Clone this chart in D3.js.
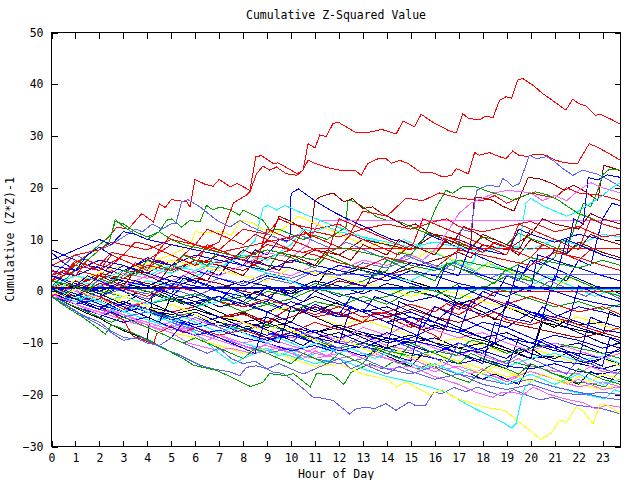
<!DOCTYPE html>
<html><head><meta charset="utf-8">
<script src="https://cdn.jsdelivr.net/npm/d3@7"></script>
<style>
html,body{margin:0;padding:0;background:#fff;}
svg{display:block;}
text{font-family:"DejaVu Sans Mono","Liberation Mono",monospace;font-size:11.5px;fill:#000;}
</style></head><body><svg id="chart" width="640" height="480"></svg>
<script>
const title = "Cumulative Z-Squared Value";
const xLabel = "Hour of Day";
const yLabel = "Cumulative (Z*Z)-1";
const xTickValues = [0,1,2,3,4,5,6,7,8,9,10,11,12,13,14,15,16,17,18,19,20,21,22,23];
const yTickValues = [-30,-20,-10,0,10,20,30,40,50];
const xDomain = [0, 23.75];
const yDomain = [-30, 50];

const RED="#ff0000", GREEN="#00a000", BLUE="#0000ff", MAGENTA="#ff60ff", CYAN="#00ffff",
      DARKRED="#a00000", YELLOW="#ffff00", BLACK="#000000", LIGHTBLUE="#6060ff", NAVY="#000090";

// series: [hour, cumulative value]
const s01 = [[0,1],[0.5,3],[1,5.5],[1.5,7],[2,9],[2.4,10.5],[2.72,12.4],[3.2,12],[3.77,15],[4.25,13.4],[4.5,16.9],[4.75,16.2],[5,17.7],[5.64,17.3],[5.78,16.3],[5.99,21.6],[6.4,20.7],[6.75,20.3],[7,21.6],[7.45,20.2],[7.75,20.8],[8.28,19.5],[8.53,26],[8.76,26.2],[9.25,24.7],[9.46,24.8],[9.96,23.5],[10.25,22.7],[10.5,23.4],[10.71,28.5],[11,27.7],[11.2,30.2],[11.47,29.9],[11.75,32.4],[11.96,32.7],[12.72,30.6],[13.4,30.8],[13.76,31.3],[14.39,30.4],[14.67,32.9],[15.15,31.8],[15.43,34.2],[15.9,32.7],[16.6,31],[16.9,30.6],[17.17,34.3],[17.4,33.4],[17.86,33.1],[18.1,33.8],[18.43,33.6],[18.7,36.9],[18.98,37.6],[19.2,37.3],[19.46,40.8],[19.67,41.1],[20.1,39.8],[20.5,38.2],[20.9,36.9],[21.47,35],[21.75,37.1],[22,36.3],[22.3,35.8],[22.7,34],[22.9,34.2],[23.28,33.4],[23.75,32.3]];
const s02 = [[0,1],[0.5,3],[1,5],[1.5,7],[2,9],[2.5,11],[2.66,13.9],[3,12.5],[3.5,11],[4,10],[4.5,11.5],[4.8,13.7],[5,14],[5.43,12.4],[5.78,13.7],[6.2,13.4],[6.47,16.6],[6.75,15.7],[7.03,16.3],[7.45,15.7],[7.86,14.7],[8,15.7],[8.42,14.7],[8.83,13.7],[9.11,11.8],[9.53,11.9],[10,11],[10.5,10],[11,10.8],[11.5,10],[12,11.5],[12.3,12.5],[12.36,17.6],[12.6,17.4],[13,16.3],[13.6,14.3],[14,13.7],[14.4,13.7],[15,12.5],[15.5,11.5],[16,10.7],[16.5,10],[17,9.2],[17.5,8.5],[18,10.5],[18.5,10],[19,9],[19.5,11.2],[20,10.2],[20.5,9.4],[21,8.5],[21.5,7.5],[22,9],[22.5,8.2],[23,7],[23.75,6]];
const s03 = [[0,0],[0.5,-1],[1,0.5],[1.5,-0.5],[2,-1.5],[2.5,1],[3,0],[3.5,-1],[4,-2],[4.5,0.5],[5,-0.5],[5.5,2.5],[6,1.5],[6.5,4],[7,3],[7.5,6],[8,5],[8.5,8],[9,7],[9.5,10],[9.95,9.8],[10,18.9],[10.3,19.8],[10.78,18.2],[11.2,16.9],[11.7,15.5],[12.2,14.3],[12.7,13.2],[13.2,12.2],[13.7,11],[14.2,10],[14.7,9.5],[15.2,8.5],[15.7,11],[16.2,10],[16.7,9],[17.2,8],[17.7,7],[18.2,6],[18.7,5],[19.2,4.2],[19.7,3.5],[20.2,6],[20.7,5],[21.2,4],[21.7,3],[22.2,2],[22.7,1],[23.2,0.5],[23.75,-0.5]];
const s04 = [[0,0],[1,2],[2,1],[3,3.5],[4,2.5],[5,4.5],[6,3.5],[7,6],[8,5],[9,7.5],[10,6.5],[10.7,9],[11,12],[11.2,13.7],[23.75,13.7]];
const s05 = [[0,0.5],[1,-0.5],[2,1.5],[3,0.5],[4,2],[5,1],[6,3],[7,4.5],[7.5,6],[8,7.5],[8.5,9.8],[8.83,16.2],[9.04,16.6],[9.39,15.7],[9.74,16.6],[10.36,15.3],[11.2,13.7],[11.7,12.8],[12.2,12],[12.7,11],[13.2,10],[13.7,9.5],[14.2,8.5],[14.7,10],[15.2,9],[15.7,8],[16.2,7],[16.7,6],[17.2,5],[17.7,4],[18.2,5.5],[18.7,4.5],[19.2,3.5],[19.7,2.5],[20.2,1.5],[20.7,3],[21.2,2],[21.7,1],[22.2,0],[22.7,-1],[23.2,0],[23.75,-1]];
const s06 = [[0,1],[1,3],[2,2],[3,4],[4,3.5],[5,6],[6,5],[7,7],[7.5,6],[8,8],[8.5,7],[9.2,11],[9.5,14.5],[10,13.5],[10.5,12],[10.8,10.5],[11,17.5],[11.2,18.2],[11.75,19],[12.2,17.3],[12.57,17.9],[13,16],[13.4,16.3],[13.8,15],[14.3,13.8],[14.8,12.5],[15.2,13],[15.7,11.5],[16.2,10.5],[16.7,9],[17.2,12.5],[17.5,11.8],[18,10.5],[18.5,9.2],[19,8.5],[19.5,7],[20,10],[20.5,9],[21,8],[21.5,7.2],[22,9.5],[22.5,8.5],[23,7.5],[23.75,6.5]];
const s07 = [[0,1],[1,3],[2,2],[3,4],[4,5.5],[5,7],[5.8,9],[6,11.5],[6.5,11.3],[7,11.5],[7.5,10.8],[7.9,13.7],[8.4,13.2],[8.8,12],[9.3,11],[9.8,12.5],[10.3,14.5],[10.8,13.5],[11.3,12.5],[11.8,11.5],[12.3,10.5],[12.8,9.5],[13.3,8.5],[13.8,9.5],[14.3,8.5],[14.8,7.5],[15.3,6.5],[15.8,8],[16.3,7],[16.8,6],[17.3,5],[17.8,4],[18.3,5.5],[18.8,4.5],[19.3,3.5],[19.8,2.5],[20.3,3.5],[20.8,2.5],[21.3,1.5],[21.8,2.5],[22.3,1.5],[22.8,0.5],[23.3,-0.5],[23.75,0.5]];
const s08 = [[0,-1],[0.5,-2],[1,-3.2],[1.5,-4.3],[2,-5.2],[2.5,-6.5],[3,-7.6],[3.5,-8.5],[4,-9.3],[4.2,-1.2],[4.5,-0.5],[5,-1.5],[5.5,-2.5],[6,-2],[6.5,-3],[7,-4],[7.5,-5],[8,-4.2],[8.5,-5.5],[9,-6.5],[9.5,-5],[10,-6],[10.5,-3],[11,-4],[11.5,-3],[12,-2],[12.5,-3],[13,-4],[13.5,-5],[14,-6],[14.5,-5],[15,-6.5],[15.5,-7.5],[16,-6.5],[16.5,-7.5],[17,-8],[17.5,-9],[18,-9.5],[18.5,-10.2],[19,-11],[19.5,-12],[20,-11],[20.5,-12.5],[21,-13],[21.5,-12],[22,-13.5],[22.5,-14],[23,-13],[23.75,-14]];
const s09 = [[0,-1.1],[0.64,-2.7],[1.33,-4.7],[2.03,-6],[2.45,-7.6],[3,-8.9],[3.42,-9.2],[3.7,-8.9],[4.25,-10.1],[4.8,-11.4],[5.2,-12],[5.64,-13],[6.2,-14.3],[6.75,-15],[7.45,-15.6],[7.86,-16.3],[8.14,-14.7],[8.56,-14.4],[9,-15],[9.25,-15.6],[9.67,-15.9],[10.08,-17.2],[10.5,-18.8],[10.92,-20.5],[11.2,-20.6],[11.75,-21.1],[12.44,-23.7],[12.72,-22.7],[13.13,-22.4],[13.48,-22.7],[13.96,-21.7],[14.38,-23],[14.93,-21.4],[15.2,-22.1],[15.6,-22.1],[15.96,-19.5],[16.3,-19.8],[16.8,-18.6],[17.3,-19.4],[17.8,-18.5],[18.3,-19.5],[18.8,-20.2],[19.3,-19],[19.8,-20],[20.4,-21],[20.9,-20.5],[21.4,-21.2],[21.9,-22],[22.4,-22.3],[22.9,-22.6],[23.3,-23.1],[23.75,-23.7]];
const s10 = [[0,1],[1,-0.5],[2,-2],[3,-1],[4,-3],[5,-4],[6,-3],[7,-5],[8,-6],[9,-5],[10,-7],[11,-8],[12,-6.5],[13,-8],[14,-9],[15,-10],[16,-9],[17,-11],[18,-12],[18.5,-10],[19,-11],[20,-13],[21,-12.5],[22,-14],[23,-15],[23.75,-14]];
const s11 = [[0,0.5],[0.5,1.5],[1,0.5],[1.5,2.5],[2,2],[2.5,4],[3,3],[3.5,5.5],[4,4.5],[4.5,6],[5,5],[5.5,7],[6,6.5],[6.5,8.5],[7,9.5],[7.38,14.4],[7.6,17.1],[8.14,18.6],[8.28,19.2],[8.56,22.7],[8.83,24.2],[9.11,23.4],[9.39,24],[9.8,22.7],[10.24,22.4],[10.5,23.4],[10.71,25.3],[11,24.7],[11.2,24.4],[11.5,23.9],[12.03,23.4],[12.66,23.4],[12.93,22.4],[13.2,24.7],[13.63,25.6],[13.98,25.6],[14.18,24.7],[14.53,25.3],[14.88,24.7],[15.43,22.9],[15.85,23],[16.33,22.1],[16.7,22.4],[16.9,23.7],[17.4,22.7],[17.66,26.8],[17.86,26.3],[18.28,26.8],[18.7,26],[18.97,25.6],[19.25,27.1],[19.5,26.3],[19.87,26],[20.15,26.5],[20.63,26.3],[21.05,25.3],[21.47,24.8],[21.96,24.7],[22.44,28.5],[22.72,28],[23.28,26.6],[23.75,25.3]];
const s12 = [[0,-1],[0.6,-3],[1.3,-5],[1.9,-7],[2.24,-8.3],[2.5,-6.5],[3,-7.3],[3.5,-8.3],[4,-9.3],[4.5,-10.5],[5,-11.8],[5.5,-13],[5.93,-14.3],[6.9,-15.3],[7.6,-16.8],[8.3,-18.4],[8.82,-17.6],[9.1,-15.9],[9.8,-16.3],[10.1,-15.9],[10.8,-18.5],[11.06,-15.9],[11.75,-16.2],[12.2,-18],[12.5,-15.7],[12.8,-15],[13.3,-14],[13.8,-15],[14.3,-13.5],[14.8,-14.3],[15.3,-15],[15.8,-14],[16.3,-15.5],[16.9,-16.8],[17.45,-17.6],[18,-15.3],[18.55,-13.7],[19.1,-13.4],[19.8,-14.3],[20.36,-14.7],[20.9,-15.9],[21.47,-16.6],[21.9,-17.6],[22.5,-17.8],[23.1,-18.5],[23.4,-17],[23.75,-15.3]];
const s13 = [[0,2],[1,0.5],[2,-1],[3,1],[4,0],[5,-1.5],[6,-2.5],[7,-1],[8,-3],[9,-2],[10,-4],[11,-3],[12,-5],[13,-3.5],[14,-5],[15,-4],[16,-6],[17,-2],[17.5,-3],[18,0],[18.5,-1],[19,3],[19.5,2],[20,6],[20.5,5],[21,8],[21.5,7],[21.8,14],[22.2,13],[22.4,22],[22.8,21.5],[23.2,22.5],[23.75,22]];
const s14 = [[0,-0.5],[1,-2.5],[2,-4],[3,-5.5],[4,-7],[5,-6],[6,-8],[7,-9.5],[8,-11],[9,-10.5],[10,-12],[11,-13],[12,-12],[13,-14],[14,-15],[15,-14.5],[16,-16.5],[17,-18],[17.7,-19.5],[18.42,-20.5],[18.8,-19.5],[19.25,-19.5],[19.7,-20],[20.1,-18.5],[20.76,-19.9],[21.2,-20.5],[21.7,-21.1],[22.2,-21.5],[22.7,-22.7],[23.2,-22],[23.75,-22.4]];
const s15 = [[0,0],[1,-1.5],[2,-3],[3,-4.5],[4,-6],[5,-5],[6,-7],[7,-8.5],[8,-10],[9,-11.5],[10,-12.5],[11,-14],[12,-13],[13,-15],[14,-16.5],[15,-17.5],[15.8,-18.5],[16.47,-19.5],[17.2,-21.5],[17.8,-23],[18.4,-24.3],[18.9,-25.5],[19.2,-26.4],[19.4,-25.5],[19.6,-21.1],[19.76,-18.5],[20.1,-17.2],[20.6,-18],[21.1,-18.5],[21.6,-19.2],[22.1,-19.8],[22.6,-20.3],[23.1,-20.8],[23.5,-19],[23.75,-19.5]];
const s16 = [[0,2],[1,1],[2,3.5],[3,2.5],[4,4.5],[5,3.5],[6,6],[7,5],[8,4],[9,6.5],[10,5.5],[11,8],[12,7],[13,10],[14,9],[15,8],[16,11],[17,10],[17.5,9],[17.65,18.2],[18,18],[18.4,17.6],[18.8,16.5],[19.3,15.5],[19.9,22],[20.4,21.7],[20.9,20.8],[21.4,19.5],[21.8,20.5],[22.3,19.2],[22.8,17.5],[23.05,24.3],[23.3,24],[23.75,23.3]];
const s17 = [[0,-0.5],[1,-2],[2,-3.5],[3,-5],[4,-6.5],[5,-8],[6,-9],[7,-10.5],[8,-12],[9,-11],[10,-13],[11,-14.5],[12,-14],[13,-16],[14,-17],[14.4,-18.5],[14.8,-17.5],[15.3,-18.8],[15.8,-20],[16.3,-19],[16.8,-20.5],[17.3,-21.3],[17.8,-22],[18.3,-22.6],[18.9,-23],[19.4,-24.8],[20,-27],[20.43,-28.7],[20.9,-27.2],[21.2,-24.9],[21.5,-25.4],[21.9,-22.3],[22.2,-23.2],[22.6,-25.6],[22.9,-21.8],[23.2,-22],[23.75,-23.7]];
const s18 = [[0,0.5],[1,1],[2,0],[3,1.5],[4,0.5],[5,2],[6,1],[7,0],[8,-1],[9,0.5],[10,-0.5],[10.5,1],[11,0.6],[11.5,4],[12,3],[13,4.5],[14,3.5],[15,2],[16,0.5],[16.5,-1],[17,-2.5],[17.5,-3],[18,-4],[18.5,-5.5],[19,-3],[19.5,-4],[20,-5],[20.5,-6],[21,-7],[21.5,-5.5],[22,-6.5],[23,-6],[23.75,-7]];
const s19 = [[0,0.5],[1,-1],[2,1],[3,0],[4,-1.5],[5,0.5],[6,-1],[7,1],[8,0],[9,2.5],[10,1.5],[11,4],[12,3],[13,5.5],[14,4.5],[15,6.5],[16,5],[16.8,4],[17.1,12],[17.5,11.5],[17.75,19.5],[18.2,20.5],[18.7,20.2],[18.83,21.8],[19.04,21.2],[19.25,20.2],[19.53,20.8],[19.95,26.3],[20.23,25.6],[20.65,26],[20.93,25.3],[21.35,23.7],[21.76,22.4],[22.18,23.4],[22.46,23],[22.74,22.7],[23.3,21.4],[23.75,20.2]];
const s20 = [[0,0],[1,-1],[2,0.5],[3,-1],[4,0],[5,-2],[6,-1],[7,-3],[8,-2],[9,-4],[10,-3],[11,-1],[12,-2.5],[13,-4],[14,-3],[15,-5],[16,-6],[17,-7.5],[18,-9],[19,-8],[20,-10],[21,-11],[22,-10],[23,-12],[23.75,-11.5]];
const s21 = [[0,2],[1,4],[2,3],[3,7],[4,6],[5,5],[6,9],[7,8],[8,12],[9,11],[9.5,14],[10,13],[11,12],[12,13],[12.5,11.5],[13,15.5],[14,14.5],[14.8,18],[15.5,17.5],[16.2,19],[17,18],[18,17.5],[18.5,18.5],[19,17],[20,19],[21,18],[21.5,20],[22,19],[23,18.5],[23.75,17.5]];
const s22 = [[0,0],[1,-1.5],[2,0],[3,-1],[4,-2.5],[5,-1.5],[6,-3],[7,-2],[8,-4],[9,-2.5],[10,-4],[11,-2],[12,-3],[13,-1],[14,-2.5],[15,0],[16,-1],[17,1.5],[18,0.5],[19,3],[20,2],[20.5,5],[21,6.5],[21.3,10],[21.6,9.5],[21.9,13],[22.2,17],[22.5,16.3],[22.8,19.5],[23,22.5],[23.3,23.6],[23.75,23.4]];
const s23 = [[0,-1],[1,-2.5],[2,-1.5],[3,-4],[4,-3],[5,-5.5],[6,-4.5],[7,-7],[8,-6],[9,-8],[10,-9],[11,-7.5],[12,-9],[13,-8],[14,-10],[15,-9],[16,-7],[17,-8],[18,-6],[19,-7],[20,-4],[20.5,-5],[21,3],[21.5,2],[22,6],[22.5,5],[23,14],[23.4,17],[23.75,16.5]];
const s24 = [[0,1],[1,0],[2,2],[3,1],[4,3],[5,2],[6,4],[7,3],[8,5],[9,4],[10,3],[11,5],[12,4],[13,6],[14,5],[15,7],[15.5,6],[16,8],[16.6,12],[17,15],[17.5,17],[18,18],[18.5,19],[19,19.5],[19.5,19.3],[20,19],[20.5,17.5],[21,18.5],[21.5,17.5],[22,19.5],[22.5,21],[23,20],[23.75,19]];
const s25 = [[0,1],[1,-0.5],[2,-2],[3,-1],[4,-2.5],[5,-1],[6,-3],[7,-2],[8,0],[9,-1],[10,1],[11,0],[12,2],[13,1],[14,3],[15,2],[16,4.5],[17,6],[17.5,5],[18,9],[18.5,8.5],[19,8],[19.5,8],[19.8,17],[20,18],[20.5,16.5],[21,15.5],[21.5,14.5],[22,15.5],[22.5,17],[23,18.5],[23.4,20],[23.75,21]];
const s26 = [[0,0.5],[1,2],[2,1],[3,2.5],[4,1.5],[5,0.5],[6,2.5],[7,1.5],[8,0],[9,-1],[10,1],[11,0],[12,2],[13,1],[14,3],[15,4.5],[16,6],[17,7.5],[17.5,6.5],[18,9],[19,8],[20,11],[20.5,14],[21,13],[22,12],[22.5,15],[23,14],[23.75,13]];
const s27 = [[0,0],[1,1.5],[2,0.5],[3,-1],[4,0.5],[5,-0.5],[6,-2],[7,-1],[8,-2.5],[9,-4],[10,-3],[11,-5],[12,-6.5],[13,-5.5],[14,-7],[15,-8.5],[16,-10],[17,-9],[18,-10.5],[19,-12],[20,-11],[21,-12.5],[22,-14],[23,-13],[23.75,-14.5]];
const s28 = [[0,-0.5],[1,-1.5],[2,-3],[3,-2],[4,-3.5],[5,-4.5],[6,-3.5],[7,-5],[8,-6],[9,-7],[10,-6],[11,-8],[12,-7],[13,-8.5],[14,-9.5],[15,-8.5],[16,-10],[17,-11],[18,-10],[19,-11.5],[20,-13],[20.5,-6],[21,-6.5],[22,-7.5],[23,-8.5],[23.3,-4],[23.75,-5]];
const s29 = [[0,3],[0.5,5],[1,7],[1.5,6],[2,8],[2.5,9],[3,10.5],[3.5,12],[3.8,11.5],[4.2,13],[4.6,12],[5,13],[5.2,13.2],[5.43,17.3],[5.7,17.7],[6.2,16.3],[6.9,13.7],[7.45,12.4],[7.86,13.7],[8.3,12.5],[8.8,11.5],[9.3,10.5],[9.8,9.5],[10.3,11],[10.8,10],[11.3,9],[11.8,8],[12.3,9.5],[12.8,8.5],[13.3,7.5],[13.8,6.5],[14.3,5.5],[14.8,7],[15.3,6],[15.8,5],[16.3,4],[16.8,5.5],[17.3,4.5],[17.8,3.5],[18.3,2.5],[18.8,3.5],[19.3,2.5],[19.8,1.5],[20.3,0.5],[20.8,2],[21.3,1],[21.8,0],[22.3,-1],[22.8,0.5],[23.3,-0.5],[23.75,-1.5]];
const s30 = [[0,2],[1,1],[2,3],[3,2],[4,1],[5,3],[6,2],[7,0.5],[8,2],[9,1],[10,0],[11,2],[12,1],[13,-0.5],[14,1.5],[15,0.5],[16,-1],[17,-2.5],[18,-1],[19,-2.5],[20,-4],[21,-5.5],[22,-7],[23,-8.5],[23.75,-9.5]];
const s31 = [[0,-1],[1,1],[2,3],[3,2.5],[4,5],[5,4],[6,6],[7,5.5],[8,7],[9,6.5],[10,8],[10.5,7.5],[11,8.2],[23.75,8.2]];
const s32 = [[0,-0.5],[1,-2],[2,-1],[3,-3],[4,-2],[5,-4],[6,-3],[7,-1],[8,-2.5],[9,0],[10,-1],[11,1.5],[12,0.5],[13,2],[14,4],[14.5,7.5],[15,7],[15.5,10],[16.06,16.3],[16.47,19.5],[16.74,18.9],[17.15,20.2],[17.7,20.2],[18.1,19.5],[18.98,18.2],[19.25,17.6],[19.6,18.3],[20.2,19.2],[20.7,18.6],[21.2,17.5],[21.5,16.5],[22,15],[22.5,14.2],[23,13],[23.75,12]];
const s33 = [[0,3],[1,1.5],[2,0],[3,2],[4,1],[5,-0.5],[6,-2],[7,-1],[8,-2.5],[9,-4],[10,-2],[11,-3.5],[12,-5],[12.5,-3],[13,-4],[14,-6],[15,-5],[16,-7],[17,-8],[17.5,-2],[18,-3],[19,-5],[20,-6],[20.5,-3],[21,-4.5],[22,-6],[23,-7.5],[23.75,-8]];
const s34 = [[0,0],[1,-2],[2,-3.5],[3,-5],[4,-6.5],[5,-8],[5.7,-10],[6.9,-11.4],[7.5,-11],[8.4,-12.1],[9,-11.5],[9.6,-10.8],[10.5,-12],[11,-11],[11.8,-9.5],[12.5,-10],[13,-8.5],[13.5,-9.5],[14,-10.5],[15,-11.5],[15.5,-10],[16,-11],[17,-12.5],[17.5,-11.5],[18,-12.5],[19,-14],[19.5,-13],[20,-14.5],[21,-15.5],[22,-16],[22.5,-14.5],[23,-15.5],[23.75,-16]];
const s35 = [[0,0.5],[1,-1],[2,-2.5],[3,-4],[4,-5.5],[5,-7],[5.5,-6],[6,-8],[6.5,-10],[7,-12],[7.6,-14],[8,-13],[8.5,-12],[9,-11],[9.5,-12.5],[10,-11.5],[10.5,-13],[11,-12],[12,-11],[13,-12.5],[14,-11],[15,-13],[16,-12],[17,-14],[18,-13],[19,-14.5],[20,-13],[21,-12],[22,-13.5],[23,-12.5],[23.75,-14]];
const s36 = [[0,-0.5],[1,-2],[2,-1],[3,-3],[4,-2],[5,-4],[6,-3],[7,-5],[8,-4],[9,-6],[10,-5],[11,-3],[12,-4.5],[13,-6],[14,-5],[15,-3.5],[16,-5],[17,-6],[18,-4.5],[19,-6],[20,-7],[21,-8],[22,-9],[23,-8],[23.75,-9]];
const s37 = [[0,2],[1,1],[2,-0.5],[3,-2],[4,-3.5],[5,-5],[6,-4],[7,-6],[8,-7.5],[9,-6.5],[10,-8],[11,-9.5],[12,-8],[13,-10],[14,-11.5],[15,-13],[16,-12],[17,-13.5],[18,-15],[19,-16.5],[20,-15.5],[21,-17],[22,-18],[23,-19],[23.75,-18]];
const s38 = [[0,1],[1,0],[2,-1],[3,0.5],[4,-0.5],[5,1.5],[6,0.5],[7,2.5],[8,1.5],[9,3.5],[10,2.5],[11,4],[11.5,3.2],[23.75,3.2]];
const s39 = [[0,0],[1,-1.5],[2,-3],[3,-2],[4,-3.5],[5,-5],[6,-4],[7,-6],[8,-7],[9,-6],[10,-8],[11,-9],[12,-8],[13,-10],[14,-11],[15,-9.5],[16,-10.5],[17,-12],[18,-13.5],[19,-15],[19.5,-9],[20,-10],[21,-11.5],[22,-12],[23,-13],[23.75,-12]];
const s40 = [[0,0],[1,-2],[2,-1],[3,-3.5],[4,-2],[5,-4],[6,-3],[7,-5],[8,-4.5],[9,-6],[10,-3],[11,-5],[12,-4],[13,-6],[14,-5],[15,-7],[16,-3],[17,-4.5],[18,-2],[18.5,0],[23.75,0]];
const s41 = [[0,0],[1,-1.5],[2,-3],[3,-2],[4,-4],[5,-5],[6,-4],[7,-6],[8,-7.5],[9,-6.5],[10,-8],[11,-9.5],[12,-11],[13,-10],[14,-11.5],[15,-12.5],[16,-11.5],[16.9,-12.4],[17.4,-9.8],[17.6,-9.5],[18,-10],[18.5,-11],[19,-12],[20,-11],[21,-10],[22,-11],[23,-12],[23.75,-13]];
const s42 = [[0,1],[1,-0.5],[2,-2.5],[3,-4],[4,-3],[5,-5],[6,-6.5],[7,-5],[8,-7],[9,-8.5],[10,-7],[11,-9],[12,-10],[13,-11],[14,-9],[15,-10.5],[16,-12],[17,-10],[18,-11.5],[19,-13],[19.5,-11],[20,-12],[21,-13.5],[22,-14],[23,-13],[23.75,-11]];
const s43 = [[0,-1],[1,-2],[2,-3.5],[3,-4.5],[4,-6],[5,-7.5],[6,-7],[7,-8.5],[8,-10],[9,-9],[10,-10.5],[11,-12],[12,-13],[13,-12],[14,-13],[15,-14],[16,-15.5],[17,-14.5],[18,-16],[19,-17],[20,-15.5],[21,-17],[22,-18.5],[23,-17.5],[23.75,-18.5]];
const s44 = [[0,0],[1,2],[2,1],[3,3],[4,4.5],[5,3.5],[6,5.5],[7,4.5],[8,7],[9,6],[10,9],[10.5,12],[11,11.5],[11.5,12.5],[12,11.5],[13,10.5],[14,9.5],[15,8.5],[16,9.5],[17,8.5],[18,7.5],[19,9],[20,8],[21,10],[22,9],[23,11],[23.75,10.5]];
const s45 = [[0,0.5],[1,2],[2,3.5],[3,5],[4,4],[5,6],[6,5],[7,4],[8,3],[9,2],[10,4.5],[11,3.5],[12,2.5],[13,1.5],[14,0.5],[15,-1],[16,0.5],[17,-0.5],[18,-2],[19,-3],[20,-4.5],[21,-6],[22,-5],[23,-6.5],[23.75,-7.5]];
const s46 = [[0,-0.5],[1,-2],[2,-3.5],[3,-5],[4,-4],[5,-6],[6,-7.5],[7,-9],[8,-10.5],[9,-12],[10,-11],[11,-13],[12,-14],[13,-13],[14,-15],[15,-16],[16,-14.5],[17,-16],[18,-17],[19,-18],[20,-17],[21,-18.5],[22,-19.5],[23,-20.5],[23.75,-21]];
const s47 = [[0,5],[1,4],[2,6],[3,5],[4,3.5],[5,2],[6,1],[7,0],[8,-1],[9,-2],[9.5,0.5],[10,-0.5],[11,1],[12,-1],[13,0],[13.5,4],[14,3],[15,1.5],[16,0],[16.5,5.5],[17,4.5],[18,3],[19,1.5],[20,0],[20.3,7],[21,6],[22,4.5],[23,3],[23.75,2]];
const s48 = [[0,0],[1,-1.5],[2,-3],[3,-5.5],[3.4,-8.7],[3.95,-9.6],[4.25,-10.3],[4.4,-8.2],[4.7,-7.5],[5,-6.8],[5.5,-8],[6,-7],[7,-8.5],[8,-7.5],[9,-9],[10,-8],[11,-6],[12,-7.5],[13,-6],[13.5,-4],[14.39,-4.7],[15.36,-7.2],[15.98,-8.5],[16.2,-9.2],[16.47,-6.3],[16.9,-2.4],[17.5,-3.5],[18,-5],[18.5,-4],[19,-5.5],[20,-6.5],[21,-5],[22,-6.5],[23,-8],[23.75,-7]];
const s49 = [[0,0.5],[0.5,2],[1,4],[1.5,6],[2,8],[2.4,9.5],[2.66,13.5],[3,13],[3.5,11.5],[4,10.5],[4.5,11.5],[5,10],[5.5,9],[6,8.5],[7,7.5],[8,6.5],[9,8],[10,7],[11,6],[12,8.5],[13,7.5],[14,6.5],[15,5],[16,4],[17,6],[18,5],[19,4],[20,6.5],[21,5.5],[22,4.5],[23,6],[23.75,5]];
const s50 = [[0,7.5],[0.5,5.5],[1,4],[1.5,7],[2,8.5],[2.5,7],[3,6],[3.5,5],[4,6.5],[5,5],[6,4],[7,2.5],[8,1],[9,3],[10,2],[11,0.5],[12,2.5],[13,1],[14,-0.5],[15,-2],[16,-1],[17,-3],[18,-4.5],[19,-2.5],[20,-4],[21,-5],[22,-3],[23,-4],[23.75,-5]];
const s51 = [[0,1],[1,0],[2,-1.5],[3,-3],[4,-2],[5,-4],[6,-5.5],[7,-7],[8,-6],[9,-7.5],[10,-9],[11,-8],[12,-9.5],[13,-7],[14,-8.5],[15,-6],[16,-7.5],[17,-9],[18,-8],[19,-10],[20,-11.5],[21,-10],[22,-11.5],[23,-13],[23.75,-12]];
const s52 = [[0,1],[1,3],[2,2],[3,4],[4,3],[5,5],[6,4],[7,6],[8,5],[9,3.5],[10,2],[10.5,1],[11,0.3],[23.75,0.3]];
const s53 = [[0,-1],[0.7,-3],[1.4,-5],[2,-6.5],[2.5,-8],[3,-9.5],[3.5,-9],[4,-10],[4.5,-10.5],[5,-9],[5.5,-10],[6,-11],[6.5,-12],[7,-11],[7.5,-13],[8,-14],[8.5,-13.5],[9,-15],[9.5,-14],[10,-15],[10.5,-16],[11,-15],[12,-13],[12.5,-15],[13,-14],[14,-16],[14.5,-14.5],[15,-15.5],[16,-17],[17,-16],[18,-18],[19,-19],[20,-18],[21,-19.5],[22,-20],[23,-19.5],[23.75,-20]];
const s54 = [[0,-0.5],[1,-2],[2,-3.5],[3,-2.5],[4,-4],[5,-5.5],[6,-7],[7,-6],[8,-8],[9,-9.5],[10,-8.5],[11,-10],[12,-11],[13,-12.5],[14,-11],[15,-12],[16,-13],[17,-14],[18,-13],[19,-14.5],[20,-15],[21,-14],[22,-15.5],[23,-16],[23.75,-15]];
const s55 = [[0,3],[1,5],[2,4],[3,7],[4,6],[5,9],[6,8],[7,7],[8,6],[9,9],[10,8],[11,7],[12,5.5],[13,4.5],[14,6.5],[15,5.5],[16,4.5],[17,8],[18,7],[19,6],[20,5],[21,7.5],[22,6.5],[23,5],[23.75,4]];
const s56 = [[0,2],[1,1],[2,-0.5],[3,1],[4,0],[5,-1.5],[6,-0.5],[7,-2],[8,-1],[9,-2.5],[10,-1.5],[11,0.5],[12,-0.5],[13,-2],[14,-1],[15,1],[16,0],[17,-1.5],[18,1],[19,0],[20,-1.5],[21,-3],[22,-2],[23,-3.5],[23.75,-2.5]];
const s57 = [[0,0.6],[23.75,0.6]];
const s58 = [[0,0.8],[23.75,0.8]];
const s59 = [[0,4],[1,3],[2,5],[3,4],[4,6],[5,5],[6,7],[7,6],[8,5],[9,4],[10,6],[11,5],[12,4],[13,3],[14,2],[15,4],[16,3],[17,1.5],[18,0.5],[19,-1],[20,1],[21,0],[22,-1.5],[23,-2.5],[23.75,-3]];
const s60 = [[0,0],[1,-1],[2,1.5],[3,0.5],[4,-1],[5,1],[6,0],[7,-2],[8,-3],[9,-1.5],[10,-3],[11,-4.5],[12,-3],[13,-5],[14,-4],[15,-2.5],[16,-4],[16.5,-2.4],[17,-3.5],[18,-1],[19,-2.5],[20,-1],[21,-2.5],[22,-4],[23,-3],[23.75,-4.5]];
const s61 = [[0,-1],[1,-3],[2,-4.5],[3,-6],[4,-5],[5,-7],[6,-8.5],[7,-7.5],[8,-9],[9,-10],[10,-11.5],[11,-10.5],[12,-12],[13,-10],[14,-8],[15,-9.5],[16,-10.5],[17,-12],[18,-11],[19,-9],[20,-10],[21,-8.5],[22,-9.5],[23,-11],[23.75,-10]];
const s62 = [[0,5],[1,7],[2,8],[2.5,9.5],[3,9],[4,8],[5,10],[6,9],[7,7.5],[8,8.5],[9,9.5],[10,10.5],[11,11.5],[12,10.5],[13,12],[14,13],[15,12],[16,13.5],[16.5,14],[17,12.5],[18,11.5],[19,12.5],[20,13.5],[21,11.5],[22,12.5],[23,10.5],[23.75,11]];
const s63 = [[0,6],[1,8],[2,10],[2.5,9],[3,11.5],[3.5,11],[4,10],[5,9],[6,8],[7,7],[8,6],[9,5],[10,4.5],[11,3],[12,5],[13,4],[14,3],[15,5.5],[16,4.5],[17,3],[17.5,9],[18,8],[19,7],[19.5,12],[20,11],[21,9.5],[22,11],[23,10],[23.75,9]];
const s64 = [[0,0],[1,-1.5],[2,-3],[3,-2],[4,-4],[5,-5.5],[6,-4.5],[7,-6.5],[8,-8],[9,-9.5],[10,-8],[11,-10],[12,-11.5],[13,-10.5],[14,-12],[15,-13.5],[15.5,-5],[16,-6],[17,-7.5],[18,-9],[18.5,-10],[19,-2],[19.5,-3],[20,-4.5],[21,-6],[21.5,-7],[22,1],[22.5,0],[23,-1],[23.75,-2]];
const s65 = [[0,1],[0.5,0],[1,-1],[1.5,0.5],[2,-0.5],[2.5,-1.5],[3,-2.5],[3.5,-1],[4,-2],[4.5,-3],[5,-4],[5.5,-5],[6,-4],[6.5,-5],[7,-6],[7.5,-7],[8,-8],[8.5,-6.5],[9,-7.5],[9.5,-8.5],[10,-9.5],[10.5,-10.5],[11,-9],[11.5,-10],[12,-11],[12.5,-12],[13,-13],[13.5,-11.5],[14,-12.5],[14.5,-13.5],[15,-14.5],[15.5,-12],[16,-13],[16.5,-14],[17,-15],[17.5,-16],[18,-17],[18.5,-16],[19,-17],[19.5,-18],[20,-14],[20.5,-15],[21,-16],[21.5,-17],[22,-18],[22.5,-15.5],[23,-16.5],[23.75,-17.5]];
const s66 = [[0,8],[0.5,7],[1,6],[1.5,5],[2,4.5],[2.5,3.5],[3,5],[3.5,4],[4,3],[4.5,2],[5,1],[5.5,3],[6,2],[6.5,1],[7,0],[7.5,-1],[8,-2],[8.5,0],[9,-1],[9.5,-2],[10,-3],[10.5,-4],[11,-2.5],[11.5,-3.5],[12,-4.5],[12.5,-1],[13,-2],[13.5,-3],[14,-4],[14.5,-5],[15,-6],[15.5,-7],[16,-3],[16.5,-4],[17,-5],[17.5,-6],[18,-7],[18.5,-8],[19,-9],[19.5,-10],[20,-11],[20.5,-9.5],[21,-10.5],[21.5,-11.5],[22,-12.5],[22.5,-13.5],[23,-14.5],[23.3,-9],[23.75,-10]];
const s67 = [[0,2],[0.5,4],[1,3],[1.5,6],[2,5],[2.5,7.5],[3,7],[3.5,9.5],[4,9],[4.5,8],[5,11],[5.5,10],[6,9],[6.5,12],[7,11],[7.5,10],[8,9],[8.5,11],[9,10],[9.5,9],[10,8],[10.5,11.5],[11,10.5],[11.5,9.5],[12,8.5],[12.5,11],[13,10],[13.5,9],[14,8],[14.5,7],[15,9],[15.5,8],[16,7],[16.5,10.5],[17,9.5],[17.5,8.5],[18,7.5],[18.5,9.5],[19,8.5],[19.5,7.5],[20,6.5],[20.5,9],[21,8],[21.5,7],[22,6],[22.5,8],[23,7],[23.75,6]];
const s68 = [[0,1],[0.5,0],[1,2],[1.5,1],[2,3],[2.5,2],[3,1],[3.5,4],[4,3],[4.5,2],[5,5],[5.5,4],[6,3],[6.5,2],[7,5],[7.5,4],[8,3],[8.5,6],[9,5],[9.5,4],[10,7],[10.5,6],[11,5],[11.5,8],[12,7],[12.5,6],[13,9],[13.5,8],[14,7],[14.5,10],[15,9],[15.5,8],[16,7],[16.5,10],[17,9],[17.5,8],[18,11],[18.5,10],[19,9],[19.5,8],[20,12],[20.5,11],[21,10],[21.5,9],[22,8],[22.5,11],[23,10],[23.75,9]];
const s69 = [[0,0],[0.5,-1],[1,1],[1.5,0],[2,2.5],[2.5,1.5],[3,4],[3.5,3],[4,6],[4.5,5],[5,4],[5.5,7],[6,6],[6.5,5],[7,8],[7.5,7],[8,6],[8.5,5],[9,4],[9.5,7.5],[10,6.5],[10.5,5.5],[11,4.5],[11.5,7],[12,6],[12.5,5],[13,4],[13.5,3],[14,6],[14.5,5],[15,4],[15.5,3],[16,2],[16.5,5.5],[17,4.5],[17.5,3.5],[18,2.5],[18.5,1.5],[19,4.5],[19.5,3.5],[20,2.5],[20.5,1.5],[21,0.5],[21.5,3],[22,2],[22.5,1],[23,0],[23.75,-1]];
const s70 = [[0,-0.5],[0.5,-1.5],[1,-2.5],[1.5,-1],[2,-2],[2.5,-3],[3,-4],[3.5,-2.5],[4,-3.5],[4.5,-4.5],[5,-5.5],[5.5,-6.5],[6,-5],[6.5,-6],[7,-7],[7.5,-8],[8,-6],[8.5,-7],[9,-8],[9.5,-9],[10,-10],[10.5,-8],[11,-9],[11.5,-10],[12,-11],[12.5,-9.5],[13,-10.5],[13.5,-11.5],[14,-12.5],[14.5,-10],[15,-11],[15.5,-12],[16,-13],[16.5,-14],[17,-10],[17.5,-11],[18,-12],[18.5,-13],[19,-14],[19.5,-12],[20,-13],[20.5,-14],[21,-15],[21.5,-16],[22,-13],[22.5,-14],[23,-15],[23.75,-16]];
const s71 = [[0,-0.5],[0.5,-1.5],[1,-2.5],[1.5,-3.5],[2,-4.5],[2.5,-3.5],[3,-4.5],[3.5,-5.5],[4,-6.5],[4.5,-7.5],[5,-6.5],[5.5,-7.5],[6,-8.5],[6.5,-9.5],[7,-8.5],[7.5,-9.5],[8,-10.5],[8.5,-11.5],[9,-10],[9.5,-11],[10,-12],[10.5,-13],[11,-11.5],[11.5,-12.5],[12,-11],[12.5,-12],[13,-13],[13.5,-12],[14,-13],[14.5,-14],[15,-13],[15.5,-14],[16,-15],[16.5,-14],[17,-15],[17.5,-16],[18,-15],[18.5,-16.5],[19,-17.5],[19.5,-16.5],[20,-17.5],[20.5,-16],[21,-17],[21.5,-18],[22,-17],[22.5,-18],[23,-19],[23.75,-18.5]];
const s72 = [[0,0],[0.5,-1],[1,-2],[1.5,-1],[2,-2],[2.5,-3],[3,-4],[3.5,-3],[4,-4],[4.5,-5],[5,-6],[5.5,-5],[6,-6],[6.5,-7],[7,-8],[7.5,-7],[8,-8],[8.5,-9],[9,-10],[9.5,-9],[10,-10],[10.5,-11],[11,-10],[11.5,-11],[12,-12],[12.5,-11],[13,-12],[13.5,-13],[14,-12],[14.5,-13],[15,-14],[15.5,-15],[16,-14],[16.5,-15],[17,-16],[17.5,-15],[18,-16],[18.5,-17],[19,-18],[19.5,-17],[20,-16],[20.5,-17],[21,-18],[21.5,-17],[22,-16],[22.5,-17],[23,-18],[23.75,-17]];
const s73 = [[0,0],[0.5,-1],[1,0.5],[1.5,-0.5],[2,-1.5],[2.5,-2.5],[3,-1],[3.5,-2],[4,-3],[4.5,-4],[5,-2.5],[5.5,-3.5],[6,-4.5],[6.5,-5.5],[7,-6.5],[7.5,-5],[8,-6],[8.5,-7],[9,-8],[9.5,-6.5],[10,-7.5],[10.5,-8.5],[11,-9.5],[11.5,-10.5],[12,-9],[12.5,-10],[13,-11],[13.5,-12],[14,-10.5],[14.5,-11.5],[15,-12.5],[15.5,-13.5],[16,-14.5],[16.5,-13],[17,-14],[17.5,-15],[18,-16],[18.5,-14.5],[19,-15.5],[19.5,-16.5],[20,-17.5],[20.5,-16],[21,-17],[21.5,-18],[22,-16.5],[22.5,-17.5],[23,-16],[23.75,-17]];
const s74 = [[0,-1],[0.5,-2],[1,-3],[1.5,-4],[2,-5],[2.5,-4],[3,-5],[3.5,-6],[4,-7],[4.5,-8],[5,-9],[5.5,-6],[6,-7],[6.5,-8],[7,-9],[7.5,-10],[8,-11],[8.5,-12],[9,-4],[9.5,-5],[10,-6],[10.5,-7],[11,-8],[11.5,-9],[12,-10],[12.5,-3],[13,-4],[13.5,-5],[14,-6],[14.5,-7],[15,-8],[15.5,-9],[16,-10],[16.5,-11],[17,-12],[17.5,-13],[18,-14],[18.5,-6],[19,-7],[19.5,-8],[20,-9],[20.5,-10],[21,-11],[21.5,-12],[22,-13],[22.5,-5],[23,-6],[23.75,-7]];
const s75 = [[0,0.5],[0.5,-0.5],[1,-1.5],[1.5,-2.5],[2,-3.5],[2.5,-2],[3,-3],[3.5,-4],[4,-5],[4.5,-6],[5,-1],[5.5,-2],[6,-3],[6.5,-4],[7,-5],[7.5,-6],[8,-7],[8.5,-8],[9,-9],[9.5,-10],[10,-3],[10.5,-4],[11,-5],[11.5,-6],[12,-7],[12.5,-8],[13,-9],[13.5,-10],[14,-11],[14.5,-2],[15,-3],[15.5,-4],[16,-5],[16.5,-6],[17,-7],[17.5,-8],[18,-9],[18.5,-10],[19,-11],[19.5,-12],[20,-13],[20.5,-5],[21,-6],[21.5,-7],[22,-8],[22.5,-9],[23,-10],[23.75,-11]];
const s76 = [[0,4],[0.5,3],[1,6],[1.5,5],[2,4],[2.5,7],[3,6],[3.5,5],[4,4],[4.5,8],[5,7],[5.5,6],[6,5],[6.5,9],[7,8],[7.5,7],[8,6],[8.5,5],[9,12],[9.5,11],[10,10],[10.5,9],[11,8],[11.5,7],[12,14],[12.5,13],[13,12],[13.5,11],[14,10],[14.5,9],[15,8],[15.5,14],[16,13],[16.5,12],[17,11],[17.5,10],[18,9],[18.5,8],[19,7],[19.5,13],[20,12],[20.5,11],[21,10],[21.5,9],[22,8],[22.5,14],[23,13],[23.75,12]];
const s77 = [[0,3],[0.5,2],[1,1],[1.5,3],[2,2],[2.5,1],[3,0],[3.5,2],[4,1],[4.5,0],[5,-1],[5.5,1],[6,0],[6.5,-1],[7,-2],[7.5,0.5],[8,-0.5],[8.5,-1.5],[9,1],[9.5,0],[10,-1],[10.5,-2],[11,0],[11.5,-1],[12,-2],[12.5,-3],[13,-4],[13.5,-1],[14,-2],[14.5,-3],[15,-4],[15.5,-5],[16,-6],[16.5,-7],[17,1],[17.5,0],[18,-1],[18.5,-2],[19,-3],[19.5,5],[20,4],[20.5,3],[21,2],[21.5,10],[22,9],[22.5,8],[23,7],[23.75,6]];
const s78 = [[0,-1],[0.5,-2],[1,-3],[1.5,-4],[2,-5],[2.5,-6],[3,-5],[3.5,-6],[4,-7],[4.5,-8],[5,-9],[5.5,-10],[6,-9],[6.5,-10],[7,-11],[7.5,-12],[8,-13],[8.5,-11],[9,-12],[9.5,-13],[10,-14],[10.5,-12],[11,-13],[11.5,-14],[12,-12],[12.5,-13],[13,-14],[13.5,-11],[14,-12],[14.5,-13],[15,-10],[15.5,-11],[16,-12],[16.5,-13],[17,-14],[17.5,-12],[18,-13],[18.5,-14],[19,-15],[19.5,-16],[20,-14],[20.5,-15],[21,-16],[21.5,-17],[22,-15],[22.5,-16],[23,-17],[23.75,-18]];

const seriesData = [s01,s02,s03,s04,s05,s06,s07,s08,s09,s10,s11,s12,s13,s14,s15,s16,s17,s18,s19,s20,
  s21,s22,s23,s24,s25,s26,s27,s28,s29,s30,s31,s32,s33,s34,s35,s36,s37,s38,s39,s40,
  s41,s42,s43,s44,s45,s46,s47,s48,s49,s50,s51,s52,s53,s54,s55,s56,s57,s58,s59,s60,s61,s62,s63,
  s64,s65,s66,s67,s68,s69,s70,s71,s72,s73,s74,s75,s76,s77,s78];
const seriesColors = [RED,GREEN,BLUE,MAGENTA,CYAN,DARKRED,YELLOW,BLACK,LIGHTBLUE,NAVY,
  RED,GREEN,BLUE,MAGENTA,CYAN,DARKRED,YELLOW,BLACK,LIGHTBLUE,NAVY,
  RED,GREEN,BLUE,MAGENTA,CYAN,DARKRED,YELLOW,BLACK,LIGHTBLUE,NAVY,
  RED,GREEN,BLUE,MAGENTA,CYAN,DARKRED,YELLOW,LIGHTBLUE,NAVY,RED,
  GREEN,BLUE,MAGENTA,CYAN,YELLOW,LIGHTBLUE,BLUE,RED,GREEN,BLUE,MAGENTA,CYAN,LIGHTBLUE,BLUE,RED,GREEN,BLUE,NAVY,BLUE,RED,BLUE,RED,BLUE,
  BLUE,NAVY,BLUE,RED,DARKRED,GREEN,LIGHTBLUE,MAGENTA,CYAN,YELLOW,BLUE,NAVY,RED,BLUE,GREEN];

const svg = d3.select("#chart");
const L = 51.5, R = 620.5, T = 32.5, B = 446.5;
const x = d3.scaleLinear().domain(xDomain).range([L, R]);
const y = d3.scaleLinear().domain(yDomain).range([B, T]);

const plot = svg.append("g");
plot.append("clipPath").attr("id","clip").append("rect").attr("x",L).attr("y",T).attr("width",R-L).attr("height",B-T);
const line = d3.line().x(d=>x(d[0])).y(d=>y(d[1]));
plot.append("g").attr("clip-path","url(#clip)")
  .selectAll("path").data(seriesData).join("path")
  .attr("d", line)
  .attr("fill","none")
  .attr("stroke",(d,i)=>seriesColors[i])
  .attr("stroke-width",1)
  .attr("shape-rendering","crispEdges");

const tick = 6;
const axB = d3.axisBottom(x).tickValues(xTickValues).tickSizeInner(-tick).tickSizeOuter(0).tickPadding(7).tickFormat(d3.format("d"));
const axT = d3.axisTop(x).tickValues(xTickValues).tickSizeInner(-tick).tickSizeOuter(0).tickFormat("");
const axLf = d3.axisLeft(y).tickValues(yTickValues).tickSizeInner(-tick).tickSizeOuter(0).tickPadding(8).tickFormat(d3.format("d"));
const axRt = d3.axisRight(y).tickValues(yTickValues).tickSizeInner(-tick).tickSizeOuter(0).tickFormat("");
function style(g){
  g.select(".domain").remove();
  g.selectAll("line").attr("stroke","#000").attr("shape-rendering","crispEdges");
  g.selectAll("text").attr("font-family",null).attr("font-size",null).attr("fill","#000");
}
svg.append("g").attr("transform",`translate(0,${B})`).call(axB).call(style);
svg.append("g").attr("transform",`translate(0,${T})`).call(axT).call(style);
svg.append("g").attr("transform",`translate(${L},0)`).call(axLf).call(style);
svg.append("g").attr("transform",`translate(${R},0)`).call(axRt).call(style);

svg.append("rect").attr("x",L).attr("y",T).attr("width",R-L).attr("height",B-T)
  .attr("fill","none").attr("stroke","#000").attr("shape-rendering","crispEdges");

svg.append("text").attr("x",(L+R)/2).attr("y",19).attr("text-anchor","middle").text(title);
svg.append("text").attr("x",(L+R)/2).attr("y",478).attr("text-anchor","middle").text(xLabel);
svg.append("text").attr("transform",`translate(14,${(T+B)/2}) rotate(-90)`).attr("text-anchor","middle").text(yLabel);
</script></body></html>
